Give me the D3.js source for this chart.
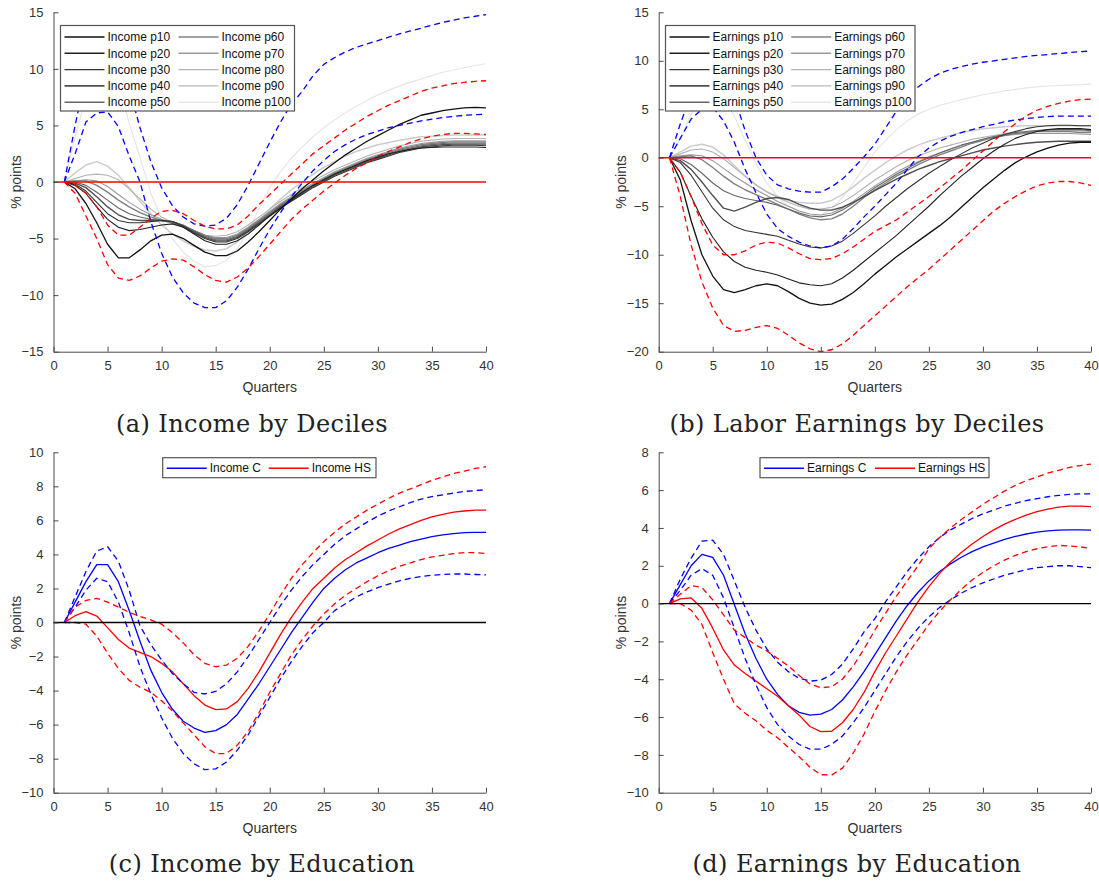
<!DOCTYPE html>
<html>
<head>
<meta charset="utf-8">
<script src="https://cdn.jsdelivr.net/npm/d3@7"></script>
<style>
  html, body { margin: 0; padding: 0; background: #fff; }
  svg { display: block; }
  .tick-label { font-family: "Liberation Sans", Arial, sans-serif; font-size: 13px; fill: #333; }
  .axis-label { font-family: "Liberation Sans", Arial, sans-serif; font-size: 14px; fill: #333; }
  .legend-text { font-family: "Liberation Sans", Arial, sans-serif; font-size: 12px; fill: #111; }
  .caption { font-family: "DejaVu Serif", serif; font-size: 24px; letter-spacing: 0.4px; fill: #222; }
</style>
</head>
<body>
<svg id="chart" width="1099" height="884"></svg>
<script>
// ---------- shared axes ----------
const quarters = [1,2,3,4,5,6,7,8,9,10,11,12,13,14,15,16,17,18,19,20,
                  21,22,23,24,25,26,27,28,29,30,31,32,33,34,35,36,37,38,39,40];
const xTicks = [0,5,10,15,20,25,30,35,40];

// ---------- (a) Income by deciles ----------
const incomeDecileLabels = ["Income p10","Income p20","Income p30","Income p40","Income p50",
                            "Income p60","Income p70","Income p80","Income p90","Income p100"];
const incomeP10  = [0,-0.6,-1.9,-3.6,-5.5,-6.7,-6.7,-6.0,-5.2,-4.7,-4.6,-5.0,-5.6,-6.2,-6.5,-6.5,-6.1,-5.3,-4.4,-3.4,-2.4,-1.5,-0.6,0.2,1.0,1.7,2.4,3.0,3.6,4.1,4.6,5.1,5.5,5.9,6.1,6.3,6.45,6.55,6.6,6.55];
const incomeP20  = [0,-0.3,-1.0,-2.2,-3.3,-4.0,-4.3,-4.2,-4.0,-3.8,-3.7,-4.0,-4.6,-5.2,-5.5,-5.5,-5.2,-4.6,-3.8,-3.0,-2.3,-1.6,-0.9,-0.3,0.2,0.7,1.1,1.5,1.9,2.2,2.5,2.7,2.9,3.0,3.05,3.1,3.1,3.1,3.1,3.05];
const incomeP30  = [0,-0.2,-0.8,-1.8,-2.8,-3.4,-3.6,-3.6,-3.5,-3.4,-3.5,-3.9,-4.5,-5.0,-5.3,-5.3,-5.0,-4.4,-3.7,-3.0,-2.3,-1.7,-1.1,-0.5,0.0,0.5,0.9,1.3,1.7,2.0,2.3,2.6,2.8,3.0,3.1,3.2,3.25,3.25,3.25,3.2];
const incomeP40  = [0,-0.1,-0.5,-1.3,-2.2,-2.9,-3.3,-3.4,-3.4,-3.4,-3.5,-3.9,-4.4,-4.9,-5.2,-5.2,-4.9,-4.3,-3.6,-2.9,-2.2,-1.6,-1.0,-0.4,0.1,0.6,1.0,1.4,1.8,2.1,2.4,2.7,2.9,3.1,3.2,3.3,3.35,3.35,3.35,3.35];
const incomeP50  = [0,0.0,-0.3,-0.9,-1.6,-2.3,-2.8,-3.1,-3.3,-3.4,-3.5,-3.8,-4.3,-4.8,-5.1,-5.1,-4.8,-4.2,-3.5,-2.8,-2.1,-1.5,-0.9,-0.3,0.2,0.7,1.1,1.5,1.9,2.2,2.5,2.8,3.0,3.2,3.3,3.4,3.45,3.45,3.45,3.45];
const incomeP60  = [0,0.1,0.1,-0.3,-0.9,-1.6,-2.2,-2.7,-3.1,-3.4,-3.6,-3.9,-4.3,-4.7,-5.0,-5.0,-4.7,-4.1,-3.4,-2.7,-2.0,-1.4,-0.8,-0.2,0.3,0.8,1.2,1.6,2.0,2.3,2.6,2.9,3.1,3.3,3.4,3.5,3.55,3.55,3.55,3.55];
const incomeP70  = [0,0.1,0.2,0.1,-0.4,-1.1,-1.8,-2.4,-2.9,-3.3,-3.6,-3.9,-4.3,-4.7,-4.9,-4.9,-4.6,-4.0,-3.3,-2.6,-1.9,-1.3,-0.7,-0.1,0.4,0.9,1.3,1.7,2.1,2.4,2.7,3.0,3.2,3.4,3.5,3.6,3.65,3.65,3.65,3.65];
const incomeP80  = [0,0.3,0.6,0.7,0.6,0.2,-0.6,-1.5,-2.4,-3.1,-3.6,-4.0,-4.4,-4.7,-4.8,-4.7,-4.4,-3.8,-3.1,-2.4,-1.7,-1.1,-0.5,0.1,0.6,1.1,1.5,1.9,2.3,2.6,2.9,3.2,3.4,3.6,3.7,3.8,3.85,3.85,3.85,3.85];
const incomeP90  = [0,0.8,1.5,1.8,1.4,0.6,-0.5,-1.7,-2.8,-3.8,-4.6,-5.2,-5.7,-6.0,-6.1,-5.9,-5.3,-4.4,-3.4,-2.4,-1.5,-0.7,0.0,0.7,1.3,1.8,2.3,2.7,3.0,3.3,3.5,3.7,3.85,4.0,4.05,4.1,4.15,4.15,4.15,4.15];
const incomeP100 = [0,4.0,7.5,9.5,10.0,8.8,5.2,2.2,-1.0,-3.3,-5.0,-6.2,-7.0,-7.5,-7.4,-6.9,-5.9,-4.3,-2.4,-0.5,0.9,2.1,3.1,4.0,4.8,5.5,6.1,6.7,7.2,7.7,8.1,8.5,8.8,9.1,9.4,9.7,9.9,10.1,10.3,10.45];
const incomeP10Upper  = [0,-0.3,-1.0,-2.2,-3.8,-4.7,-4.7,-4.0,-3.2,-2.6,-2.5,-2.8,-3.4,-3.9,-4.15,-4.15,-3.8,-3.0,-2.0,-1.1,-0.2,0.7,1.6,2.5,3.2,3.9,4.6,5.2,5.8,6.3,6.8,7.2,7.6,8.0,8.3,8.5,8.7,8.8,8.9,8.95];
const incomeP10Lower  = [0,-1.0,-3.0,-5.0,-7.3,-8.5,-8.7,-8.3,-7.6,-7.0,-6.8,-6.9,-7.5,-8.2,-8.7,-8.85,-8.4,-7.6,-6.6,-5.5,-4.4,-3.3,-2.4,-1.6,-0.8,-0.1,0.6,1.2,1.7,2.3,2.7,3.1,3.5,3.8,4.05,4.2,4.3,4.3,4.25,4.2];
const incomeP100Upper = [0,5.0,9.5,12.0,12.8,11.5,8.3,4.8,1.8,-0.5,-2.1,-3.1,-3.7,-3.9,-3.8,-3.2,-2.0,-0.3,1.6,3.5,5.3,6.9,8.0,9.4,10.4,11.0,11.5,11.9,12.2,12.5,12.8,13.1,13.35,13.6,13.85,14.1,14.3,14.5,14.65,14.8];
const incomeP100Lower = [0,2.5,5.3,6.1,6.2,4.9,2.3,0.0,-3.5,-6.3,-8.4,-9.8,-10.7,-11.1,-11.1,-10.5,-9.3,-7.7,-5.9,-4.2,-2.7,-1.3,-0.1,1.0,1.9,2.7,3.3,3.8,4.2,4.5,4.8,5.0,5.2,5.4,5.55,5.7,5.8,5.9,5.95,6.0];
const incomeTicksY = [-15,-10,-5,0,5,10,15];

// ---------- (b) Labor earnings by deciles ----------
const earnDecileLabels = ["Earnings p10","Earnings p20","Earnings p30","Earnings p40","Earnings p50",
                          "Earnings p60","Earnings p70","Earnings p80","Earnings p90","Earnings p100"];
const earnP10  = [0,-2.3,-6.5,-10.0,-12.2,-13.6,-13.9,-13.6,-13.2,-13.0,-13.2,-13.8,-14.5,-15.0,-15.2,-15.1,-14.6,-13.9,-13.0,-12.0,-11.1,-10.2,-9.4,-8.6,-7.8,-7.0,-6.1,-5.1,-4.1,-3.1,-2.2,-1.3,-0.5,0.1,0.6,1.0,1.3,1.5,1.6,1.6];
const earnP20  = [0,-1.5,-4.0,-6.3,-8.2,-9.7,-10.7,-11.3,-11.6,-11.8,-12.1,-12.5,-12.9,-13.1,-13.2,-13.0,-12.4,-11.6,-10.7,-9.8,-8.9,-8.0,-7.0,-6.0,-5.0,-3.9,-2.9,-1.9,-1.0,-0.1,0.7,1.4,2.0,2.4,2.7,2.9,3.0,3.0,3.0,2.9];
const earnP30  = [0,-0.5,-1.8,-3.5,-5.2,-6.4,-7.1,-7.5,-7.7,-7.9,-8.1,-8.5,-8.9,-9.2,-9.3,-9.1,-8.6,-7.8,-6.9,-6.0,-5.0,-4.1,-3.2,-2.4,-1.6,-0.9,-0.2,0.4,1.0,1.5,2.0,2.4,2.7,3.0,3.2,3.3,3.35,3.35,3.3,3.3];
const earnP40  = [0,-0.3,-1.2,-2.5,-3.9,-5.2,-5.5,-5.1,-4.6,-4.2,-4.1,-4.3,-4.8,-5.2,-5.4,-5.4,-5.1,-4.6,-4.0,-3.4,-2.8,-2.2,-1.7,-1.2,-0.8,-0.4,-0.1,0.2,0.5,0.8,1.0,1.2,1.35,1.5,1.6,1.65,1.7,1.7,1.7,1.7];
const earnP50  = [0,-0.1,-0.7,-1.6,-2.6,-3.4,-3.9,-4.2,-4.4,-4.6,-4.9,-5.3,-5.7,-6.0,-6.1,-5.9,-5.4,-4.7,-3.9,-3.1,-2.4,-1.7,-1.1,-0.5,0.0,0.5,0.9,1.3,1.6,1.9,2.2,2.4,2.6,2.7,2.8,2.9,2.9,2.9,2.9,2.8];
const earnP60  = [0,0.1,0.2,-0.2,-1.0,-1.9,-2.7,-3.3,-3.8,-4.3,-4.8,-5.3,-5.8,-6.2,-6.4,-6.3,-5.8,-5.0,-4.1,-3.3,-2.6,-1.9,-1.3,-0.7,-0.2,0.3,0.7,1.1,1.5,1.8,2.1,2.3,2.5,2.6,2.7,2.7,2.7,2.7,2.6,2.6];
const earnP70  = [0,0.2,0.3,0.2,-0.3,-1.1,-1.9,-2.6,-3.3,-3.9,-4.5,-5.0,-5.5,-5.8,-5.9,-5.7,-5.2,-4.5,-3.7,-2.9,-2.2,-1.5,-0.9,-0.4,0.1,0.5,0.9,1.3,1.6,1.9,2.1,2.3,2.4,2.5,2.5,2.5,2.5,2.5,2.45,2.4];
const earnP80  = [0,0.4,0.8,0.9,0.6,-0.1,-1.0,-1.9,-2.8,-3.5,-4.1,-4.6,-5.0,-5.3,-5.3,-5.1,-4.6,-3.9,-3.1,-2.3,-1.6,-0.9,-0.3,0.2,0.6,1.0,1.3,1.6,1.9,2.1,2.3,2.5,2.6,2.7,2.8,2.8,2.8,2.8,2.8,2.7];
const earnP90  = [0,0.6,1.2,1.4,1.1,0.3,-0.8,-1.9,-2.8,-3.5,-4.0,-4.4,-4.6,-4.7,-4.7,-4.4,-3.8,-3.0,-2.1,-1.3,-0.5,0.2,0.8,1.3,1.7,2.0,2.3,2.6,2.8,3.0,3.1,3.2,3.25,3.3,3.3,3.3,3.3,3.3,3.3,3.3];
const earnP100 = [0,2.0,4.5,6.3,7.0,6.2,4.3,1.8,-0.6,-2.6,-4.0,-5.0,-5.6,-6.0,-5.9,-5.3,-4.1,-2.6,-1.0,0.6,1.8,2.9,3.8,4.5,5.0,5.4,5.7,6.0,6.25,6.5,6.7,6.9,7.05,7.2,7.3,7.4,7.45,7.5,7.55,7.6];
const earnP10Upper  = [0,-1.5,-4.0,-6.8,-9.0,-10.0,-10.0,-9.6,-9.0,-8.7,-8.8,-9.3,-9.9,-10.4,-10.5,-10.4,-9.9,-9.2,-8.4,-7.6,-7.0,-6.4,-5.6,-4.8,-4.0,-3.1,-2.2,-1.3,-0.3,0.7,1.7,2.7,3.5,4.3,4.9,5.3,5.6,5.85,6.0,6.05];
const earnP10Lower  = [0,-4.0,-9.0,-12.8,-15.5,-17.3,-17.9,-17.8,-17.5,-17.3,-17.6,-18.3,-19.1,-19.7,-20.0,-19.8,-19.2,-18.3,-17.3,-16.3,-15.3,-14.3,-13.3,-12.4,-11.5,-10.5,-9.5,-8.5,-7.5,-6.5,-5.5,-4.7,-4.0,-3.4,-2.9,-2.6,-2.45,-2.45,-2.6,-2.85];
const earnP100Upper = [0,3.5,6.5,8.5,9.5,8.5,6.2,2.8,0.0,-1.8,-2.8,-3.2,-3.45,-3.55,-3.55,-3.0,-2.2,-1.1,0.1,1.4,3.1,4.8,6.2,7.3,8.1,8.7,9.1,9.4,9.65,9.85,10.0,10.15,10.3,10.45,10.55,10.65,10.75,10.85,10.95,11.0];
const earnP100Lower = [0,2.0,4.0,5.0,5.2,3.8,1.6,-1.2,-3.6,-5.8,-7.3,-8.1,-8.7,-9.1,-9.3,-9.1,-8.4,-7.3,-6.1,-5.0,-3.8,-2.6,-1.2,0.1,1.0,1.7,2.2,2.6,2.9,3.2,3.45,3.7,3.9,4.05,4.15,4.25,4.3,4.3,4.3,4.3];
const earnTicksY = [-20,-15,-10,-5,0,5,10,15];

// ---------- (c) Income by education ----------
const incomeEduLabels = ["Income C","Income HS"];
const incomeC      = [0,1.2,2.4,3.4,3.4,2.4,0.7,-1.1,-2.8,-4.1,-5.1,-5.8,-6.2,-6.45,-6.35,-6.0,-5.4,-4.5,-3.6,-2.6,-1.6,-0.6,0.3,1.2,2.0,2.6,3.1,3.5,3.8,4.1,4.35,4.55,4.75,4.9,5.05,5.15,5.22,5.28,5.3,5.3];
const incomeCUpper = [0,1.5,3.0,4.2,4.45,3.6,1.9,-0.2,-1.3,-2.2,-3.0,-3.6,-4.1,-4.2,-4.05,-3.6,-2.9,-2.0,-1.0,0.0,1.0,1.9,2.7,3.4,4.0,4.6,5.1,5.5,5.9,6.25,6.55,6.8,7.05,7.25,7.4,7.5,7.6,7.7,7.75,7.8];
const incomeCLower = [0,0.9,1.9,2.6,2.4,1.2,-0.6,-2.6,-4.2,-5.6,-6.8,-7.7,-8.3,-8.65,-8.6,-8.2,-7.5,-6.6,-5.5,-4.4,-3.3,-2.3,-1.4,-0.6,0.0,0.7,1.1,1.5,1.8,2.05,2.25,2.45,2.6,2.7,2.78,2.82,2.85,2.85,2.82,2.8];
const incomeHS      = [0,0.4,0.64,0.38,-0.3,-1.0,-1.5,-1.75,-2.0,-2.4,-2.9,-3.6,-4.3,-4.85,-5.12,-5.08,-4.65,-3.87,-2.9,-1.8,-0.7,0.3,1.2,2.0,2.6,3.2,3.7,4.1,4.5,4.85,5.2,5.5,5.75,6.0,6.2,6.35,6.48,6.55,6.6,6.6];
const incomeHSUpper = [0,0.9,1.3,1.42,1.2,0.9,0.6,0.35,0.15,-0.1,-0.6,-1.2,-1.9,-2.4,-2.6,-2.5,-2.1,-1.4,-0.5,0.5,1.6,2.6,3.4,4.1,4.75,5.3,5.8,6.2,6.6,6.95,7.3,7.6,7.85,8.1,8.35,8.55,8.75,8.9,9.05,9.15];
const incomeHSLower = [0,0.0,-0.1,-0.8,-1.8,-2.7,-3.4,-3.8,-4.1,-4.6,-5.2,-5.9,-6.6,-7.3,-7.7,-7.7,-7.2,-6.4,-5.3,-4.1,-3.0,-1.9,-1.0,-0.2,0.5,1.1,1.6,2.0,2.4,2.75,3.05,3.3,3.5,3.7,3.85,3.95,4.05,4.1,4.1,4.05];
const incomeEduTicksY = [-10,-8,-6,-4,-2,0,2,4,6,8,10];

// ---------- (d) Earnings by education ----------
const earnEduLabels = ["Earnings C","Earnings HS"];
const earnC      = [0,1.0,2.0,2.6,2.44,1.5,-0.05,-1.6,-2.9,-4.0,-4.8,-5.4,-5.75,-5.9,-5.85,-5.6,-5.1,-4.4,-3.6,-2.7,-1.8,-0.9,-0.1,0.6,1.2,1.7,2.1,2.45,2.75,3.0,3.2,3.4,3.55,3.68,3.78,3.84,3.88,3.9,3.9,3.88];
const earnCUpper = [0,1.3,2.4,3.3,3.35,2.6,1.2,-0.2,-1.4,-2.4,-3.1,-3.6,-3.95,-4.1,-4.05,-3.75,-3.2,-2.4,-1.5,-0.8,0.1,0.9,1.7,2.4,3.0,3.5,3.9,4.2,4.5,4.75,4.95,5.15,5.3,5.45,5.55,5.65,5.72,5.77,5.8,5.8];
const earnCLower = [0,0.7,1.5,1.85,1.5,0.3,-1.3,-2.9,-4.3,-5.5,-6.4,-7.0,-7.45,-7.7,-7.7,-7.45,-7.0,-6.3,-5.5,-4.6,-3.7,-2.8,-2.0,-1.3,-0.7,-0.2,0.2,0.55,0.85,1.1,1.3,1.5,1.65,1.8,1.9,1.95,2.0,2.0,1.95,1.9];
const earnHS      = [0,0.25,0.3,-0.25,-1.3,-2.45,-3.25,-3.7,-4.1,-4.5,-4.9,-5.4,-5.9,-6.5,-6.77,-6.75,-6.3,-5.6,-4.7,-3.6,-2.6,-1.7,-0.8,0.1,0.9,1.6,2.2,2.7,3.15,3.55,3.9,4.2,4.45,4.68,4.86,5.0,5.1,5.15,5.15,5.13];
const earnHSUpper = [0,0.5,0.95,0.85,0.2,-0.6,-1.4,-1.8,-2.2,-2.5,-2.9,-3.3,-3.8,-4.25,-4.45,-4.4,-4.0,-3.3,-2.4,-1.4,-0.5,0.4,1.2,2.0,2.9,3.5,4.0,4.45,4.85,5.25,5.6,5.95,6.25,6.5,6.7,6.9,7.05,7.2,7.3,7.38];
const earnHSLower = [0,0.0,-0.35,-1.1,-2.6,-4.0,-5.3,-5.8,-6.2,-6.7,-7.1,-7.6,-8.1,-8.65,-9.05,-9.07,-8.7,-7.9,-6.9,-5.7,-4.6,-3.6,-2.7,-1.9,-1.1,-0.4,0.2,0.75,1.25,1.65,2.0,2.3,2.55,2.75,2.9,3.0,3.08,3.05,3.0,2.92];
const earnEduTicksY = [-10,-8,-6,-4,-2,0,2,4,6,8];

// ---------- captions ----------
const captions = ["(a) Income by Deciles","(b) Labor Earnings by Deciles",
                  "(c) Income by Education","(d) Earnings by Education"];

// ---------- styling ----------
const decileGrays = ["#111111","#1f1f1f","#333333","#4f4f4f","#666666",
                     "#808080","#999999","#b3b3b3","#cccccc","#e6e6e6"];
const decileWidths = [1.3,1.1,1.1,1.4,1.1,1.4,1.1,1.1,1.5,1.2];
const BLUE = "#0000ff", RED = "#ff0000";
const AXIS = "#4a4a4a";

const svg = d3.select("#chart");

function drawPanel(p) {
  const g = svg.append("g");
  const x = d3.scaleLinear().domain([0, 40]).range([p.left, p.right]);
  const y = d3.scaleLinear().domain(p.yDomain).range([p.bottom, p.top]);
  const line = d3.line().x((d, i) => x(quarters[i])).y(d => y(d));

  const plot = g.append("g");
  // series
  p.series.forEach(s => {
    plot.append("path")
      .datum(s.values)
      .attr("d", line)
      .attr("fill", "none")
      .attr("stroke", s.color)
      .attr("stroke-width", s.width)
      .attr("stroke-dasharray", s.dashed ? "6,4" : null)
      .attr("stroke-linejoin", "round");
  });
  // zero reference line
  plot.append("line")
    .attr("x1", x(0)).attr("x2", x(40))
    .attr("y1", y(0)).attr("y2", y(0))
    .attr("stroke", p.zeroColor).attr("stroke-width", 1.4);

  // axes (left + bottom, ticks pointing inward)
  const xAxis = d3.axisBottom(x).tickValues(xTicks).tickSizeInner(-5).tickSizeOuter(0).tickPadding(9);
  const yAxis = d3.axisLeft(y).tickValues(p.yTicks).tickSizeInner(-5).tickSizeOuter(0).tickPadding(10);
  const gx = g.append("g").attr("transform", `translate(0,${p.bottom})`).call(xAxis);
  const gy = g.append("g").attr("transform", `translate(${p.left},0)`).call(yAxis);
  [gx, gy].forEach(a => {
    a.select(".domain").attr("stroke", AXIS).attr("stroke-width", 1);
    a.selectAll(".tick line").attr("stroke", AXIS);
    a.selectAll(".tick text").attr("class", "tick-label").attr("fill", null);
    a.attr("font-family", null).attr("font-size", null);
  });

  g.append("text").attr("class", "axis-label")
    .attr("x", (p.left + p.right) / 2).attr("y", p.bottom + 40)
    .attr("text-anchor", "middle").text("Quarters");
  g.append("text").attr("class", "axis-label")
    .attr("transform", `translate(${p.yLabelX},${(p.top + p.bottom) / 2}) rotate(-90)`)
    .attr("text-anchor", "middle").attr("dy", "0.35em").text("% points");

  // legend
  const L = p.legend;
  const lg = g.append("g");
  lg.append("rect")
    .attr("x", L.x).attr("y", L.y).attr("width", L.w).attr("height", L.h)
    .attr("fill", "#fff").attr("stroke", "#555").attr("stroke-width", 1.2);
  L.items.forEach((it, i) => {
    const col = Math.floor(i / L.rows), row = i % L.rows;
    const lx = L.x + 4 + col * L.colW;
    const ly = L.y + L.rowY0 + row * L.rowH;
    lg.append("line")
      .attr("x1", lx).attr("x2", lx + 40).attr("y1", ly).attr("y2", ly)
      .attr("stroke", it.color).attr("stroke-width", it.width);
    lg.append("text").attr("class", "legend-text")
      .attr("x", lx + 43).attr("y", ly).attr("dy", "0.35em").text(it.label);
  });

  svg.append("text").attr("class", "caption")
    .attr("x", p.captionX).attr("y", p.captionY)
    .attr("text-anchor", "middle").text(p.caption);
}

function decileSeries(values, upper10, lower10, upper100, lower100) {
  const out = [];
  for (let i = values.length - 1; i >= 0; i--) {
    out.push({ values: values[i], color: decileGrays[i], width: decileWidths[i] });
  }
  out.push({ values: upper100, color: BLUE, width: 1.3, dashed: true });
  out.push({ values: lower100, color: BLUE, width: 1.3, dashed: true });
  out.push({ values: upper10, color: RED, width: 1.3, dashed: true });
  out.push({ values: lower10, color: RED, width: 1.3, dashed: true });
  return out;
}

const incomeDeciles = [incomeP10,incomeP20,incomeP30,incomeP40,incomeP50,
                       incomeP60,incomeP70,incomeP80,incomeP90,incomeP100];
const earnDeciles = [earnP10,earnP20,earnP30,earnP40,earnP50,
                     earnP60,earnP70,earnP80,earnP90,earnP100];

drawPanel({
  left: 53.5, right: 486, top: 12.3, bottom: 351.7, yDomain: [-15, 15], yTicks: incomeTicksY,
  yLabelX: 16, zeroColor: RED,
  series: decileSeries(incomeDeciles, incomeP10Upper, incomeP10Lower, incomeP100Upper, incomeP100Lower),
  legend: { x: 60.5, y: 25.5, w: 234, h: 85.5, rows: 5, colW: 114, rowY0: 11.5, rowH: 16.3,
            items: incomeDecileLabels.map((l, i) => ({ label: l, color: decileGrays[i], width: decileWidths[i] + 0.3 })) },
  caption: captions[0], captionX: 252, captionY: 432
});

drawPanel({
  left: 658.7, right: 1091, top: 12.3, bottom: 351.7, yDomain: [-20, 15], yTicks: earnTicksY,
  yLabelX: 621, zeroColor: RED,
  series: decileSeries(earnDeciles, earnP10Upper, earnP10Lower, earnP100Upper, earnP100Lower),
  legend: { x: 665.5, y: 25.5, w: 249.5, h: 85.5, rows: 5, colW: 121.7, rowY0: 11.5, rowH: 16.3,
            items: earnDecileLabels.map((l, i) => ({ label: l, color: decileGrays[i], width: decileWidths[i] + 0.3 })) },
  caption: captions[1], captionX: 857, captionY: 432
});

drawPanel({
  left: 53.5, right: 486, top: 452.3, bottom: 792.7, yDomain: [-10, 10], yTicks: incomeEduTicksY,
  yLabelX: 16, zeroColor: "#000",
  series: [
    { values: incomeC, color: BLUE, width: 1.3 },
    { values: incomeHS, color: RED, width: 1.3 },
    { values: incomeCUpper, color: BLUE, width: 1.3, dashed: true },
    { values: incomeCLower, color: BLUE, width: 1.3, dashed: true },
    { values: incomeHSUpper, color: RED, width: 1.3, dashed: true },
    { values: incomeHSLower, color: RED, width: 1.3, dashed: true }
  ],
  legend: { x: 162.7, y: 457.7, w: 213.3, h: 20, rows: 1, colW: 102, rowY0: 10.5, rowH: 0,
            items: incomeEduLabels.map((l, i) => ({ label: l, color: i ? RED : BLUE, width: 1.4 })) },
  caption: captions[2], captionX: 262, captionY: 872
});

drawPanel({
  left: 658.7, right: 1091, top: 452.3, bottom: 792.7, yDomain: [-10, 8], yTicks: earnEduTicksY,
  yLabelX: 621, zeroColor: "#000",
  series: [
    { values: earnC, color: BLUE, width: 1.3 },
    { values: earnHS, color: RED, width: 1.3 },
    { values: earnCUpper, color: BLUE, width: 1.3, dashed: true },
    { values: earnCLower, color: BLUE, width: 1.3, dashed: true },
    { values: earnHSUpper, color: RED, width: 1.3, dashed: true },
    { values: earnHSLower, color: RED, width: 1.3, dashed: true }
  ],
  legend: { x: 760, y: 457.7, w: 229, h: 20, rows: 1, colW: 111, rowY0: 10.5, rowH: 0,
            items: earnEduLabels.map((l, i) => ({ label: l, color: i ? RED : BLUE, width: 1.4 })) },
  caption: captions[3], captionX: 857, captionY: 872
});
</script>
</body>
</html>
